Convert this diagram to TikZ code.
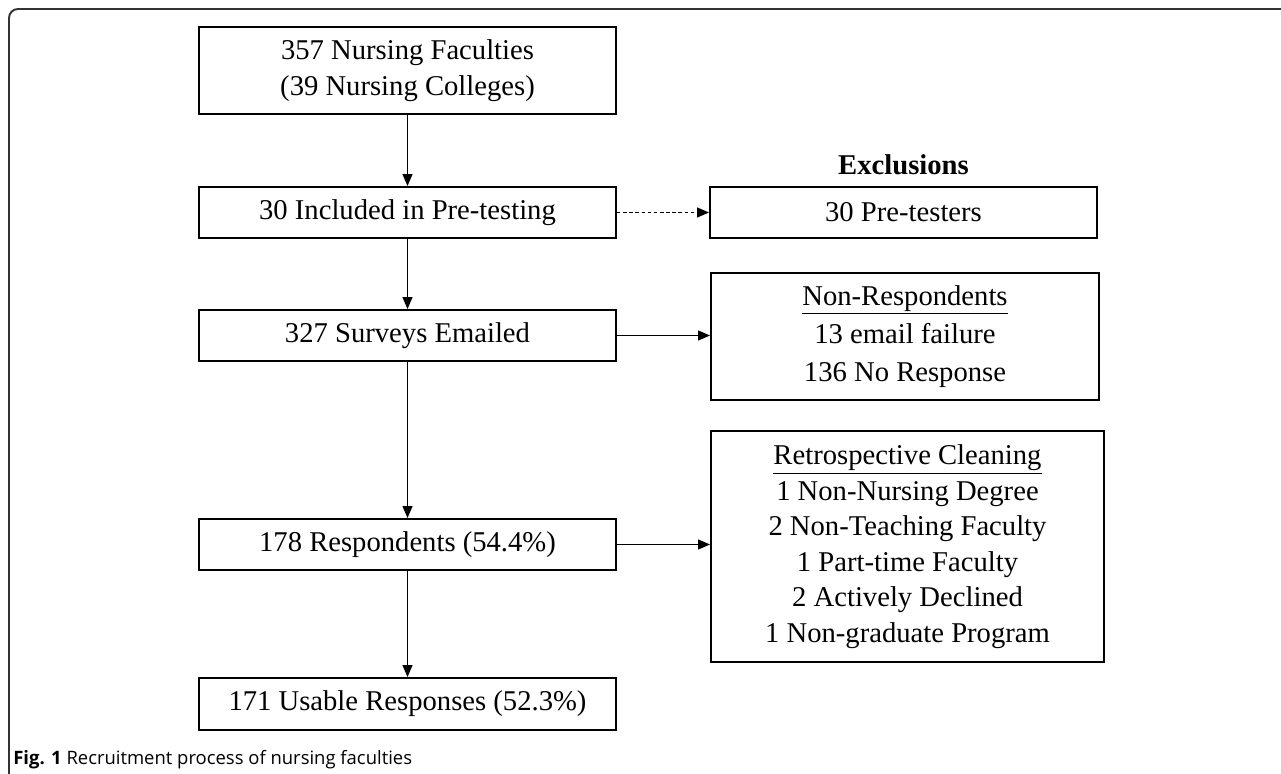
\documentclass[tikz,border=0pt]{standalone}
\usepackage{fontspec}
\setmainfont{Liberation Serif}
\newfontfamily\capfont{Open Sans}
\usetikzlibrary{arrows.meta}

\begin{document}
\begin{tikzpicture}[
	box/.style={draw, line width=1.1pt, minimum width=8.34cm, minimum height=1.02cm, inner sep=0pt, align=center, font=\fontsize{16.3}{20.5}\selectfont},
	sidebox/.style={box, minimum width=7.74cm},
	arr/.style={-{Triangle[length=0.24cm, width=0.2cm]}, line width=0.7pt},
	]
	\useasboundingbox (0,0) rectangle (25.62,-15.48);
	%% frame round the figure
	\draw[line width=1.1pt, black!80, rounded corners=0.18cm] (25.62,-0.18) -- (0.18,-0.18) -- (0.18,-15.48);
	\node[box, minimum height=1.74cm] (faculty) at (8.15,-1.41) {357 Nursing Faculties\\(39 Nursing Colleges)};
	\node[box] (pretest) at (8.15,-4.25) {30 Included in Pre-testing};
	\node[font=\bfseries\fontsize{16.3}{20.5}\selectfont] (excl) at (18.07,-3.30) {Exclusions};
	\node[sidebox] (pretesters) at (18.07,-4.25) {30 Pre-testers};
	\node[box] (emailed) at (8.15,-6.71) {327 Surveys Emailed};
	\node[sidebox, minimum width=7.76cm, minimum height=2.54cm, font=\fontsize{16.3}{21.8}\selectfont] (nonresp) at (18.10,-6.73) {\underline{Non-Respondents}\\13 email failure\\136 No Response};
	\node[box] (resp) at (8.15,-10.89) {178 Respondents (54.4\%)};
	\node[sidebox, minimum width=7.86cm, minimum height=4.62cm, font=\fontsize{16.3}{20.2}\selectfont] (cleaning) at (18.15,-10.93) {\underline{Retrospective Cleaning}\\1 Non-Nursing Degree\\2 Non-Teaching Faculty\\1 Part-time Faculty\\2 Actively Declined\\1 Non-graduate Program};
	\node[box, minimum height=1.04cm] (usable) at (8.15,-14.08) {171 Usable Responses (52.3\%)};
	\node[anchor=west, inner sep=0pt, font=\capfont\fontsize{10.5}{12}\selectfont] (caption) at (0.26,-15.2) {\textbf{Fig. 1} Recruitment process of nursing faculties};
	%% arrows
	\draw[arr] (faculty) -- (pretest);
	\draw[arr, dash pattern=on 2pt off 1.5pt] (pretest) -- (pretesters);
	\draw[arr] (pretest) -- (emailed);
	\draw[arr] (emailed.east) -- (emailed.east -| nonresp.west);
	\draw[arr] (emailed) -- (resp);
	\draw[arr] (resp.east) -- (resp.east -| cleaning.west);
	\draw[arr] (resp) -- (usable);
\end{tikzpicture}
\end{document}
